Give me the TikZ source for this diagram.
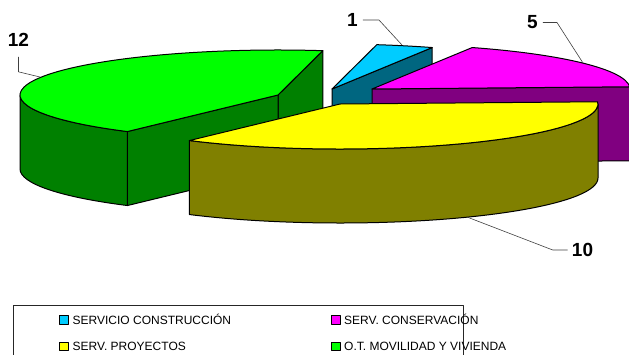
\documentclass[tikz,border=0pt]{standalone}
\usepackage{fontspec}
\setmainfont{Liberation Sans}
\definecolor{cyantop}{RGB}{0,204,255}
\definecolor{cyanside}{RGB}{0,102,128}
\definecolor{magtop}{RGB}{255,0,255}
\definecolor{magside}{RGB}{128,0,128}
\definecolor{yeltop}{RGB}{255,255,0}
\definecolor{yelside}{RGB}{128,128,0}
\definecolor{grntop}{RGB}{0,255,0}
\definecolor{grnside}{RGB}{0,128,0}
\begin{document}
\begin{tikzpicture}[x=1pt,y=1pt,line join=round,
  face/.style={draw=black,line width=1pt},
  lbl/.style={font=\fontsize{19}{19}\selectfont\bfseries,inner sep=0pt},
  leader/.style={draw=black!75,line width=0.6pt},
  legtxt/.style={font=\fontsize{12}{13}\selectfont,inner sep=0pt,anchor=base west},
  legsq/.style={draw=black,line width=0.8pt}]
\useasboundingbox (0,0) rectangle (629,-354);
% ---- cyan slice (1) ----
\begin{scope}[shift={(332,-89)}]
  \fill[face,fill=cyanside] (0,0) -- (67.14:258 and 45) -- ++(0,-74) -- (0,-74) -- cycle;
  \fill[face,fill=cyantop] (0,0) -- (67.14:258 and 45) arc[start angle=67.14,end angle=80,x radius=258,y radius=45] -- cycle;
\end{scope}
% ---- magenta slice (5) ----
\begin{scope}[shift={(372,-89)}]
  \fill[face,fill=magside] (0,0) -- (2.86:258 and 45) -- ++(0,-74) -- (0,-74) -- cycle;
  \fill[face,fill=magtop] (0,0) -- (2.86:258 and 45) arc[start angle=2.86,end angle=67.14,x radius=258,y radius=45] -- cycle;
\end{scope}
% ---- green slice (12) ----
\begin{scope}[shift={(278,-95)}]
  \fill[face,fill=grnside] (0,0) -- (80:258 and 45) -- ++(0,-74) -- (0,-74) -- cycle;
  \fill[face,fill=grnside] (0,0) -- (234.29:258 and 45) -- ++(0,-74) -- (0,-74) -- cycle;
  \fill[face,fill=grnside] (180:258 and 45) arc[start angle=180,end angle=234.29,x radius=258,y radius=45] -- ++(0,-74) arc[start angle=234.29,end angle=180,x radius=258,y radius=45] -- cycle;
  \fill[face,fill=grntop] (0,0) -- (80:258 and 45) arc[start angle=80,end angle=234.29,x radius=258,y radius=45] -- cycle;
\end{scope}
% ---- yellow slice (10) ----
\begin{scope}[shift={(340,-104)}]
  \fill[face,fill=yelside] (-125.71:258 and 45) arc[start angle=-125.71,end angle=0,x radius=258,y radius=45] -- ++(0,-74) arc[start angle=0,end angle=-125.71,x radius=258,y radius=45] -- cycle;
  \fill[face,fill=yeltop] (0,0) -- (-125.71:258 and 45) arc[start angle=-125.71,end angle=2.86,x radius=258,y radius=45] -- cycle;
\end{scope}
% ---- data labels ----
\node[lbl] (l12) at (18.5,-40) {12};
\coordinate (e12) at (40,-77);
\draw[leader] ([yshift=-10pt]l12.south) -- ++(0,-15) -- (e12);
\node[lbl] (l1) at (352.5,-20) {1};
\coordinate (e1) at (402,-45);
\draw[leader] ([xshift=5pt]l1.east) -- ++(16,0) -- (e1);
\node[lbl] (l5) at (532.5,-22.5) {5};
\coordinate (e5) at (583,-63);
\draw[leader] ([xshift=5pt]l5.east) -- ++(14,0) -- (e5);
\node[lbl] (l10) at (582.5,-250) {10};
\coordinate (e10) at (467,-217);
\draw[leader] ([xshift=-4pt]l10.west) -- ++(-15,0) -- (e10);
% ---- legend ----
\draw[line width=0.8pt,draw=black!85] (13,-360) -- (13,-305.5) -- (463,-305.5) -- (463,-360);
\filldraw[legsq,fill=cyantop] (59,-315.5) rectangle (68,-324);
\node[legtxt] (t1) at (72.5,-324.5) {SERVICIO CONSTRUCCIÓN};
\filldraw[legsq,fill=magtop] (331.5,-315.5) rectangle (340,-324);
\node[legtxt] (t2) at (344,-324.5) {SERV. CONSERVACIÓN};
\filldraw[legsq,fill=yeltop] (59,-342) rectangle (68,-350.5);
\node[legtxt] (t3) at (72.5,-350.5) {SERV. PROYECTOS};
\filldraw[legsq,fill=grntop] (331.5,-342) rectangle (340,-350.5);
\node[legtxt] (t4) at (344,-350.5) {O.T. MOVILIDAD Y VIVIENDA};
\end{tikzpicture}
\end{document}
